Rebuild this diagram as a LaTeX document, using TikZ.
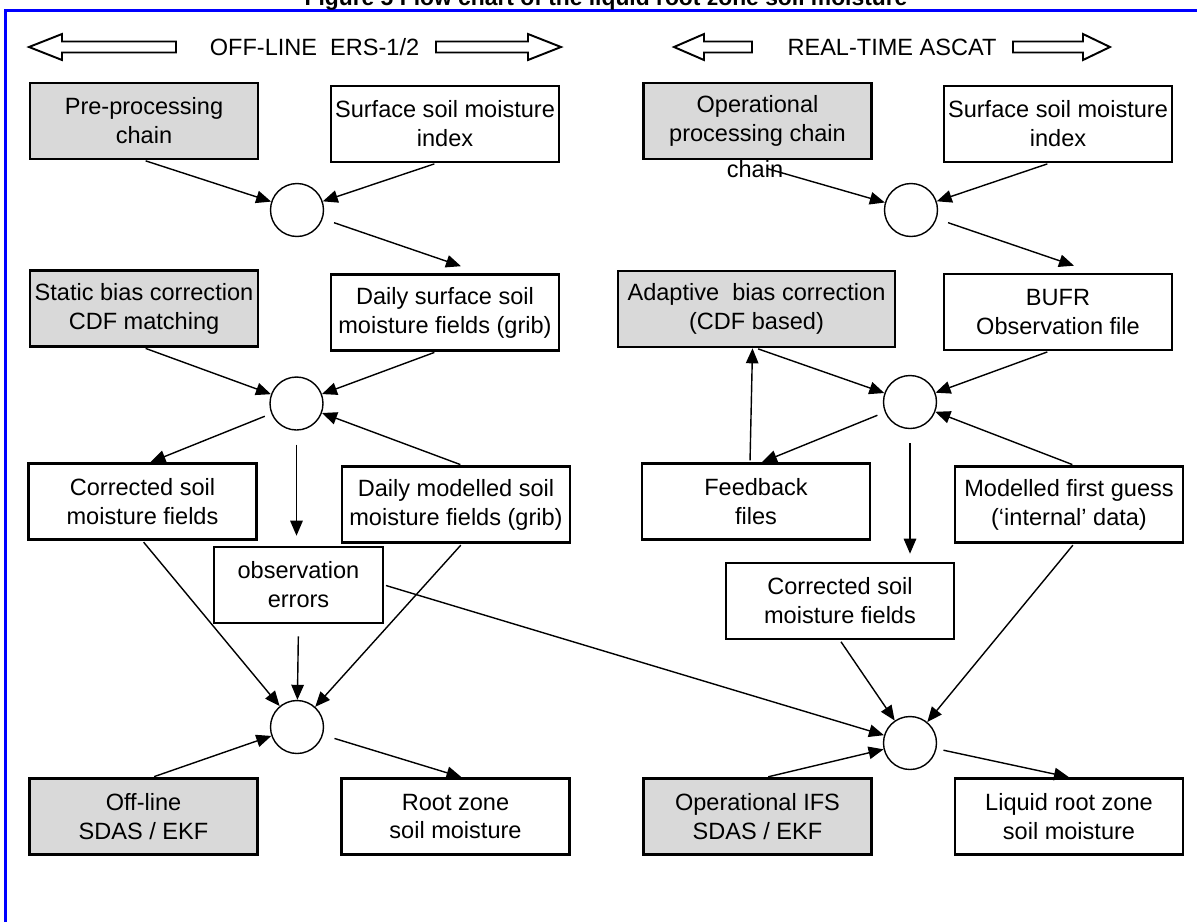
\documentclass[tikz,border=0pt]{standalone}
\usepackage{fontspec}
\setmainfont{Liberation Sans}
\usetikzlibrary{arrows.meta}

\tikzset{
  box/.style={draw, line width=1.5pt, minimum width=4.56cm, minimum height=1.52cm, align=center, inner sep=1pt},
  gbox/.style={box, fill=black!15},
  junc/.style={draw, circle, line width=0.8pt, minimum size=1.06cm, inner sep=0pt},
  arr/.style={-{Triangle[length=0.3cm,width=0.25cm]}, line width=0.8pt, shorten <=1pt},
  hollow/.style={line width=1.1pt},
}

\begin{document}
\begin{tikzpicture}[x=0.02cm, y=-0.02cm, font=\fontsize{13.4}{16.5}\selectfont]
        \useasboundingbox (0,0) rectangle (1197,921);
        \clip (0,0) rectangle (1197,921);

        % Frame and title
        \draw[blue, line width=1.7pt] (5.7,960) -- (5.7,10) -- (1240,10);
        \node[font=\fontsize{13}{15}\selectfont\bfseries, anchor=base] (title) at (606,5.5) {Figure 5 Flow chart of the liquid root zone soil moisture};

        % Headings with hollow arrows
        \node (offline) at (314.5,47) {OFF-LINE~ ERS-1/2};
        \node (realtime) at (892,47) {REAL-TIME ASCAT};
        \draw[hollow] (29,47) -- (62,34) -- (62,41.5) -- (176,41.5) -- (176,52.5) -- (62,52.5) -- (62,60) -- cycle;
        \draw[hollow] (436,41.5) -- (528,41.5) -- (528,34) -- (561,47) -- (528,60) -- (528,52.5) -- (436,52.5) -- cycle;
        \draw[hollow] (674,47) -- (704,34) -- (704,41.5) -- (752,41.5) -- (752,52.5) -- (704,52.5) -- (704,60) -- cycle;
        \draw[hollow] (1013,41.5) -- (1083,41.5) -- (1083,34) -- (1110,47) -- (1083,60) -- (1083,52.5) -- (1013,52.5) -- cycle;

        % Off-line column
        \node[gbox] (pre) at (144,121) {Pre-processing\\chain};
        \node[box] (ssmA) at (445,124) {Surface soil moisture\\index};
        \node[junc] (c1) at (297,210) {};
        \node[gbox] (sbc) at (144,308.5) {Static bias correction\\CDF matching};
        \node[box] (dsf) at (445,312.5) {Daily surface soil\\moisture fields (grib)};
        \node[junc] (c2) at (296.5,403.5) {};
        \node[box] (csA) at (142.5,501.5) {Corrected soil\\moisture fields};
        \node[box] (dms) at (456,504.5) {Daily modelled soil\\moisture fields (grib)};
        \node[box, minimum width=3.38cm] (obs) at (298.5,585) {observation\\errors};
        \node[junc] (c3) at (297,727) {};
        \node[gbox] (offl) at (143.5,816.5) {Off-line\\SDAS / EKF};
        \node[box] (rzsm) at (455.5,816.5) {Root zone\\soil moisture};

        % Real-time column
        \node[gbox] (opc) at (757.5,121) {Operational\\processing chain};
        \node[anchor=base] (chn) at (755,177) {chain};
        \node[box] (ssmB) at (1058,124) {Surface soil moisture\\index};
        \node[junc] (c4) at (911,210) {};
        \node[gbox, minimum width=5.54cm] (abc) at (756.5,309) {Adaptive~ bias correction\\(CDF based)};
        \node[box] (bufr) at (1058,312) {BUFR\\Observation file};
        \node[junc] (c5) at (910,402) {};
        \node[box] (fb) at (756,501.5) {Feedback\\files};
        \node[box] (mfg) at (1069,504.5) {Modelled first guess\\(‘internal’ data)};
        \node[box] (csB) at (840,601) {Corrected soil\\moisture fields};
        \node[junc] (c6) at (910,743) {};
        \node[gbox] (ifs) at (757.5,816.5) {Operational IFS\\SDAS / EKF};
        \node[box] (lrz) at (1069,816.5) {Liquid root zone\\soil moisture};
        \coordinate (opcout) at (765,168);

        % Draw arrows, off-line
        \draw[arr] (pre.south) -- (c1);
        \draw[arr] ([xshift=-0.18cm]ssmA.south) -- (c1);
        \draw[arr, shorten <=0.24cm] (c1) -- ([xshift=0.32cm, yshift=0.14cm]dsf.north);
        \draw[arr] (sbc.south) -- (c2);
        \draw[arr] ([xshift=-0.18cm]dsf.south) -- (c2);
        \draw[arr] ([xshift=0.12cm]dms.north) -- (c2);
        \draw[arr, shorten <=0.14cm] (c2) -- ([xshift=0.16cm]csA.north);
        \draw[arr, shorten <=0.28cm, shorten >=0.2cm] (c2) -- (c2 |- obs.north);
        \draw[arr] (csA.south) -- (c3);
        \draw[arr, shorten <=0.24cm] (obs.south) -- (c3);
        \draw[arr] ([xshift=0.12cm]dms.south) -- (c3);
        \draw[arr] ([xshift=0.18cm]offl.north) -- (c3);
        \draw[arr, shorten <=0.24cm] (c3) -- ([xshift=0.12cm]rzsm.north);
        \draw[arr] (obs.east) -- (c6);

        % Draw arrows, real-time
        \draw[arr] (opcout) -- (c4);
        \draw[arr] ([xshift=-0.18cm]ssmB.south) -- (c4);
        \draw[arr, shorten <=0.24cm] (c4) -- ([xshift=0.32cm, yshift=0.14cm]bufr.north);
        \draw[arr] (abc.south) -- (c5);
        \draw[arr] ([xshift=-0.18cm]bufr.south) -- (c5);
        \draw[arr] ([xshift=0.1cm]mfg.north) -- (c5);
        \draw[arr, shorten <=0.16cm] (c5) -- ([xshift=0.12cm]fb.north);
        \draw[arr] ([xshift=-0.12cm]fb.north) -- ([xshift=-0.08cm]abc.south);
        \draw[arr, shorten <=0.28cm, shorten >=0.16cm] (c5) -- (c5 |- csB.north);
        \draw[arr] (csB.south) -- (c6);
        \draw[arr] ([xshift=0.1cm]mfg.south) -- (c6);
        \draw[arr] ([xshift=0.18cm]ifs.north) -- (c6);
        \draw[arr, shorten <=0.14cm] (c6) -- (lrz.north);
    \end{tikzpicture}
\end{document}
